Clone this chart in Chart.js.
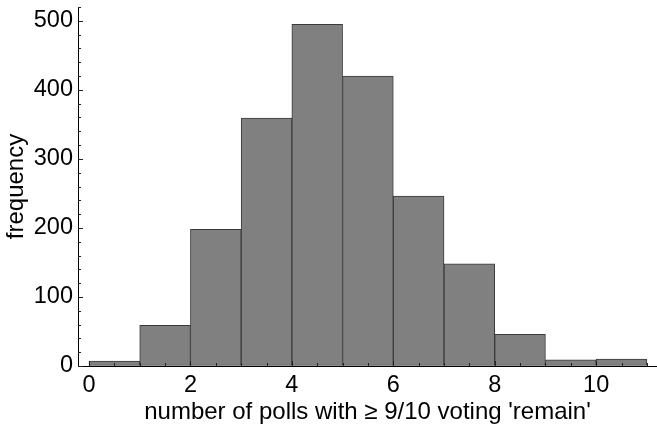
<!DOCTYPE html>
<html>
<head>
<meta charset="utf-8">
<script src="https://cdn.jsdelivr.net/npm/chart.js@4.4.0/dist/chart.umd.min.js"></script>
<style>
html, body { margin: 0; padding: 0; background: #fff; }
#wrap { width: 657px; height: 429px; }
</style>
</head>
<body>
<div id="wrap"><canvas id="grafico"></canvas></div>
<script>
/* datos del histograma */
const binEdges = [0, 1, 2, 3, 4, 5, 6, 7, 8, 9, 10, 11];
const counts = [7, 59, 198, 359, 495, 420, 246, 148, 46, 9, 10];
const xTickLabels = [0, 2, 4, 6, 8, 10];
const yTickLabels = [0, 100, 200, 300, 400, 500];

const bars = counts.map((c, i) => ({ x: (binEdges[i] + binEdges[i + 1]) / 2, y: c }));

/* marcas hacia adentro, estilo Mathematica */
const inwardTicks = {
    id: 'inwardTicks',
    afterDatasetsDraw(chart) {
        const ctx = chart.ctx;
        const x = chart.scales.x, y = chart.scales.y;
        ctx.save();
        ctx.strokeStyle = '#222';
        ctx.lineWidth = 1;
        ctx.beginPath();
        for (let v = 0; v <= 11; v += 0.5) {
            const px = Math.round(x.getPixelForValue(v)) + 0.5;
            const len = v % 2 === 0 ? 5 : 3;
            ctx.moveTo(px, y.bottom);
            ctx.lineTo(px, y.bottom - len);
        }
        for (let v = 0; v <= 520; v += 20) {
            const py = Math.round(y.getPixelForValue(v)) + 0.5;
            const len = v % 100 === 0 ? 5 : 3;
            ctx.moveTo(x.left, py);
            ctx.lineTo(x.left + len, py);
        }
        ctx.stroke();
        ctx.restore();
    }
};

const fuenteTicks = { family: "'Liberation Sans', Arial, sans-serif", size: 23.5 };
const fuenteTitulo = { family: "'Liberation Sans', Arial, sans-serif", size: 24 };

const grafico = document.getElementById('grafico').getContext('2d');
new Chart(grafico, {
    type: 'bar',
    data: {
        datasets: [{
            data: bars,
            backgroundColor: '#808080',
            borderColor: '#3a3a3a',
            borderWidth: 1,
            borderSkipped: false,
            barPercentage: 1,
            categoryPercentage: 1
        }]
    },
    plugins: [inwardTicks],
    options: {
        responsive: true,
        maintainAspectRatio: false,
        animation: false,
        layout: { padding: { top: 7, right: 0, left: 0, bottom: 0 } },
        plugins: {
            legend: { display: false },
            tooltip: { enabled: false }
        },
        scales: {
            x: {
                type: 'linear',
                min: -0.217,
                max: 11.2,
                offset: false,
                grid: { display: true, drawOnChartArea: false, drawTicks: false, offset: false },
                border: { display: true, color: '#000', width: 1 },
                afterBuildTicks: (s) => { s.ticks = xTickLabels.map(v => ({ value: v })); },
                afterFit: (s) => { s.height = 63; s.paddingLeft = 0; s.paddingRight = 0; },
                ticks: { color: '#000', font: fuenteTicks, padding: 5, maxRotation: 0, autoSkip: false },
                title: {
                    display: true,
                    text: "number of polls with \u2265 9/10 voting 'remain'",
                    color: '#000',
                    font: fuenteTitulo,
                    padding: { top: 0, bottom: 2 }
                }
            },
            y: {
                min: 0,
                max: 520,
                grid: { display: true, drawOnChartArea: false, drawTicks: false },
                border: { display: true, color: '#000', width: 1 },
                afterBuildTicks: (s) => { s.ticks = yTickLabels.map(v => ({ value: v })); },
                afterFit: (s) => { s.width = 78; s.paddingTop = 0; s.paddingBottom = 0; },
                ticks: { color: '#000', font: fuenteTicks, padding: 5 },
                title: {
                    display: true,
                    text: 'frequency',
                    color: '#000',
                    font: fuenteTitulo,
                    padding: { top: 2, bottom: 0 }
                }
            }
        }
    }
});
</script>
</body>
</html>
